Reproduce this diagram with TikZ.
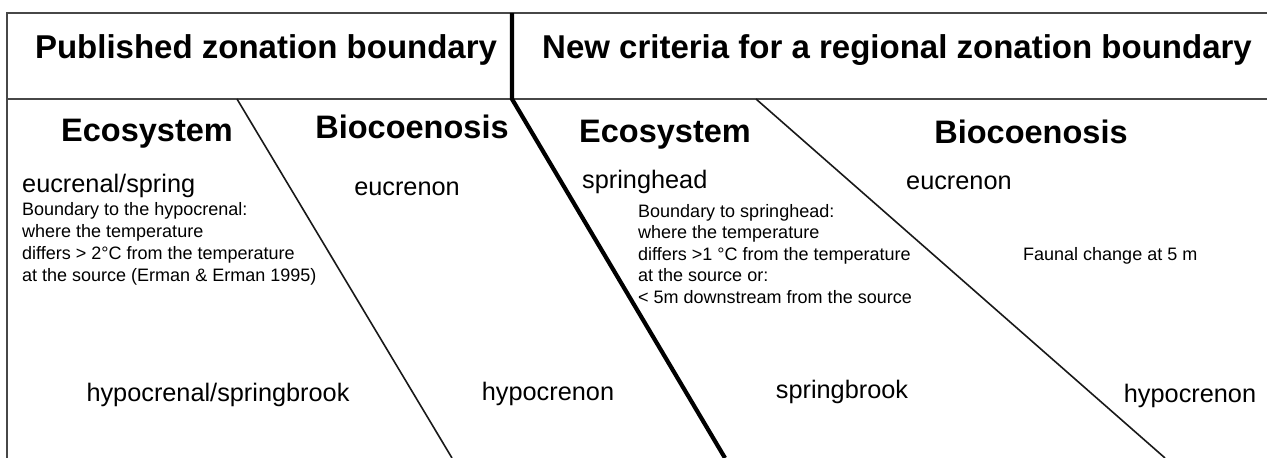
\documentclass[tikz,border=0pt]{standalone}
\usepackage{fontspec}
\setmainfont{Liberation Sans}
\begin{document}
\begin{tikzpicture}[x=1pt,y=-1pt,
  frameline/.style={line width=2pt, draw=black!72},
  thinline/.style={line width=1.6pt, draw=black!90},
  boldline/.style={line width=4.2pt, draw=black},
  hdr/.style={font=\fontsize{33}{40}\selectfont\bfseries, inner sep=0},
  col/.style={font=\fontsize{32.5}{39}\selectfont\bfseries, inner sep=0, anchor=base},
  mid/.style={font=\fontsize{25.3}{30}\selectfont, inner sep=0, anchor=base},
  midl/.style={mid, anchor=base west},
  small/.style={font=\fontsize{18}{22}\selectfont, inner sep=0, anchor=base west},
]
\useasboundingbox (0,0) rectangle (1267,458);
% frame
\coordinate (tl) at (7,13);
\coordinate (tr) at (1267,13);
\coordinate (ml) at (7,99);
\coordinate (mr) at (1267,99);
\coordinate (bl) at (7,458);
\draw[frameline] (tr) -- (tl) -- (bl);
\draw[frameline] (ml) -- (mr);
% dividers
\coordinate (hdt) at (512,13);
\coordinate (hdb) at (512,99);
\coordinate (hde) at (725,458);
\draw[boldline] (hdt) -- (hdb) -- (hde);
\coordinate (d1t) at (237,99);
\coordinate (d1b) at (452,458);
\draw[thinline] (d1t) -- (d1b);
\coordinate (d2t) at (756,99);
\coordinate (d2b) at (1165,458);
\draw[thinline] (d2t) -- (d2b);
% headers
\node[hdr] (h1) at (266,50) {Published zonation boundary};
\node[hdr] (h2) at (897,50) {New criteria for a regional zonation boundary};
% column headings
\node[col] (c1) at (147,141) {Ecosystem};
\node[col] (c2) at (412,138) {Biocoenosis};
\node[col] (c3) at (665,142) {Ecosystem};
\node[col] (c4) at (1031,143) {Biocoenosis};
% left ecosystem column
\node[midl] (e1) at (22,192) {eucrenal/spring};
\node[small] (s1a) at (22,215) {Boundary to the hypocrenal:};
\node[small] (s1b) at (22,237) {where the temperature};
\node[small] (s1c) at (22,259) {differs > 2°C from the temperature};
\node[small] (s1d) at (22,281) {at the source (Erman \& Erman 1995)};
% left biocoenosis column
\node[mid] (e2) at (407,195) {eucrenon};
% right ecosystem column
\node[midl] (e3) at (582,188) {springhead};
\node[small] (s2a) at (638,217) {Boundary to springhead:};
\node[small] (s2b) at (638,238.5) {where the temperature};
\node[small] (s2c) at (638,260) {differs >1 °C from the temperature};
\node[small] (s2d) at (638,281.5) {at the source or:};
\node[small] (s2e) at (638,303) {< 5m downstream from the source};
% right biocoenosis column
\node[midl] (e4) at (906,189) {eucrenon};
\node[small] (f1) at (1023,260) {Faunal change at 5 m};
% lower texts
\node[mid] (l1) at (218,401) {hypocrenal/springbrook};
\node[mid] (l2) at (548,400) {hypocrenon};
\node[mid] (l3) at (842,398) {springbrook};
\node[mid] (l4) at (1190,402) {hypocrenon};
\end{tikzpicture}
\end{document}
